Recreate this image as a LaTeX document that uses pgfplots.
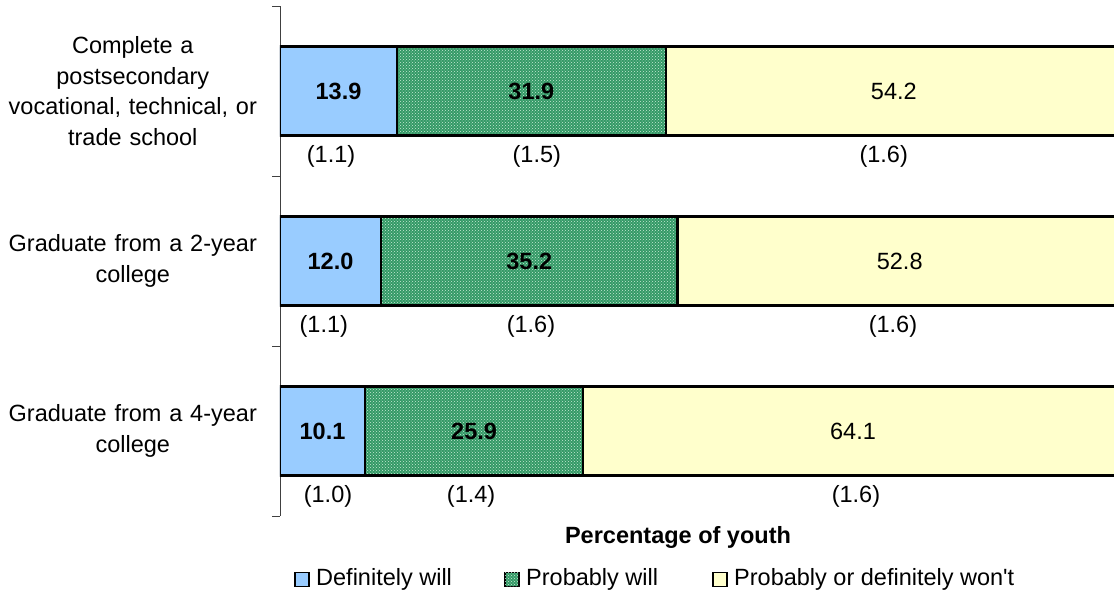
\documentclass[border=0pt]{standalone}
\usepackage{pgfplots}
\pgfplotsset{compat=1.18}
\usepackage{fontspec}
\setmainfont{Liberation Sans}
\usetikzlibrary{patterns}
\definecolor{cblue}{HTML}{99CCFF}
\definecolor{cgreen}{HTML}{339966}
\definecolor{cdot}{HTML}{C8EAD6}
\definecolor{cyellow}{HTML}{FFFFCC}
\newcommand{\lf}{\fontsize{23.5}{28}\selectfont}
\begin{document}
\begin{tikzpicture}
\path[use as bounding box, clip] (0,0) rectangle (1114pt,595pt);
\begin{axis}[
  at={(280pt,79pt)}, anchor=south west,
  scale only axis, width=842pt, height=510pt,
  xbar stacked, bar width=89pt,
  xmin=0, xmax=100, ymin=-0.5, ymax=2.5, y dir=reverse,
  axis x line=none, axis y line=left,
  axis line style={-, line width=0.8pt, color=black!75},
  tick align=outside,
  ytick={0,1,2},
  yticklabels={{Complete a\\postsecondary\\vocational, technical, or\\trade school},
               {Graduate from a 2-year\\college},
               {Graduate from a 4-year\\college}},
  major tick length=0pt,
  minor ytick={-0.5,0.5,1.5,2.5}, minor tick length=8pt,
  minor tick style={line width=0.8pt, color=black!75},
  yticklabel style={text width=262pt, align=center, inner sep=0pt, xshift=-16pt,
    font=\fontsize{23.5}{30.7}\selectfont},
  clip=true,
]
\addplot[fill=cblue, draw=black, line width=2.2pt] coordinates {(13.9,0) (12.0,1) (10.1,2)};
\addplot[fill=cgreen, draw=black, line width=2.2pt, postaction={pattern=crosshatch dots, pattern color=cdot}] coordinates {(31.9,0) (35.2,1) (25.9,2)};
\addplot[fill=cyellow, draw=black, line width=2.2pt] coordinates {(54.2,0) (52.8,1) (64.1,2)};
% value label positions
\coordinate (a1) at (axis cs:6.95,0);
\coordinate (a2) at (axis cs:29.85,0);
\coordinate (a3) at (axis cs:72.9,0);
\coordinate (b1) at (axis cs:6.0,1);
\coordinate (b2) at (axis cs:29.6,1);
\coordinate (b3) at (axis cs:73.6,1);
\coordinate (c1) at (axis cs:5.05,2);
\coordinate (c2) at (axis cs:23.05,2);
\coordinate (c3) at (axis cs:68.05,2);
% standard error positions
\coordinate (ea1) at (axis cs:6.06,0.385);
\coordinate (ea2) at (axis cs:30.5,0.385);
\coordinate (ea3) at (axis cs:71.7,0.385);
\coordinate (eb1) at (axis cs:5.2,1.385);
\coordinate (eb2) at (axis cs:29.8,1.385);
\coordinate (eb3) at (axis cs:72.8,1.385);
\coordinate (ec1) at (axis cs:5.7,2.385);
\coordinate (ec2) at (axis cs:22.7,2.385);
\coordinate (ec3) at (axis cs:68.4,2.385);
\end{axis}
\node[font=\lf\bfseries] at (a1) {13.9};
\node[font=\lf\bfseries] at (a2) {31.9};
\node[font=\lf] at (a3) {54.2};
\node[font=\lf\bfseries] at (b1) {12.0};
\node[font=\lf\bfseries] at (b2) {35.2};
\node[font=\lf] at (b3) {52.8};
\node[font=\lf\bfseries] at (c1) {10.1};
\node[font=\lf\bfseries] at (c2) {25.9};
\node[font=\lf] at (c3) {64.1};
\node[font=\lf] at (ea1) {(1.1)};
\node[font=\lf] at (ea2) {(1.5)};
\node[font=\lf] at (ea3) {(1.6)};
\node[font=\lf] at (eb1) {(1.1)};
\node[font=\lf] at (eb2) {(1.6)};
\node[font=\lf] at (eb3) {(1.6)};
\node[font=\lf] at (ec1) {(1.0)};
\node[font=\lf] at (ec2) {(1.4)};
\node[font=\lf] at (ec3) {(1.6)};
\node[font=\lf\bfseries] at (678pt,58pt) {Percentage of youth};
% legend
\draw[fill=cblue, line width=1.4pt] (295pt,8.5pt) rectangle (309pt,22.5pt);
\node[anchor=west, inner sep=0pt, font=\lf] at (316pt,15.5pt) {Definitely will};
\draw[fill=cgreen, line width=1.4pt, postaction={pattern=crosshatch dots, pattern color=cdot}] (505pt,8.5pt) rectangle (519pt,22.5pt);
\node[anchor=west, inner sep=0pt, font=\lf] at (526pt,15.5pt) {Probably will};
\draw[fill=cyellow, line width=1.4pt] (713pt,8.5pt) rectangle (727pt,22.5pt);
\node[anchor=west, inner sep=0pt, font=\lf] at (734pt,15.5pt) {Probably or definitely won\textquotesingle t};
\end{tikzpicture}
\end{document}
